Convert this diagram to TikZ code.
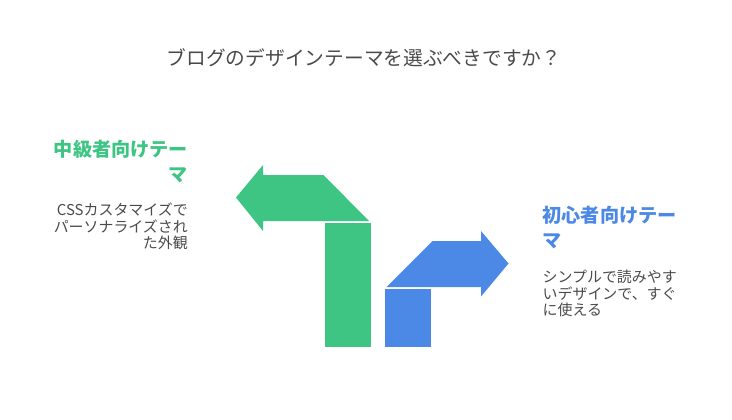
\documentclass[tikz,border=0pt]{standalone}
\usepackage{fontspec}
\newfontfamily\jpfont{Noto Sans CJK JP}
\definecolor{themegreen}{HTML}{3EC584}
\definecolor{themeblue}{HTML}{4C89E6}
\definecolor{textgray}{HTML}{4A4A4A}

\begin{document}
\begin{tikzpicture}[x=1bp,y=-1bp,
    heading/.style={inner sep=0pt,font=\jpfont\bfseries\fontsize{19.2}{25.5}\selectfont},
    desc/.style={inner sep=0pt,text=textgray,font=\jpfont\fontsize{15}{16.8}\selectfont}]
  \useasboundingbox (0,0) rectangle (732,419);

  \node [inner sep=0pt,text=textgray,font=\jpfont\fontsize{19.8}{24}\selectfont] (title) at (364,58) {ブログのデザインテーマを選ぶべきですか？};

  % green: intermediate
  \fill [themegreen] (236,197.5) -- (263,165) -- (263,175) -- (323.5,175) -- (369,221) -- (263,221) -- (263,231) -- cycle;
  \fill [themegreen] (325,223) rectangle (371,347);

  \node [heading,text=themegreen,align=right,anchor=north east] (midhead) at (188,139.5) {中級者向けテー\\マ};
  \node [desc,align=right,anchor=north east] (middesc) at (188,202.5) {CSSカスタマイズで\\パーソナライズされ\\た外観};

  % blue: beginner
  \fill [themeblue] (508.5,263.5) -- (481,231) -- (481,241) -- (432.5,241) -- (386.5,287) -- (481,287) -- (481,296.5) -- cycle;
  \fill [themeblue] (385,289) rectangle (431,347);

  \node [heading,text=themeblue,align=left,anchor=north west] (newhead) at (542.5,205.5) {初心者向けテー\\マ};
  \node [desc,align=left,anchor=north west] (newdesc) at (542.5,269.5) {シンプルで読みやす\\いデザインで、すぐ\\に使える};
\end{tikzpicture}
\end{document}
